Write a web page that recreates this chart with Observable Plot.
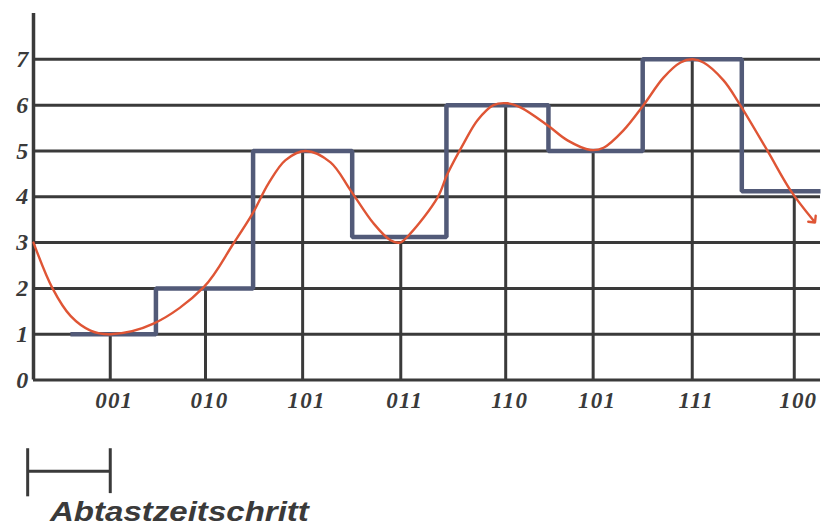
<!DOCTYPE html>
<html>
<head>
<meta charset="utf-8">
<script src="https://cdn.jsdelivr.net/npm/d3@7"></script>
<script src="https://cdn.jsdelivr.net/npm/@observablehq/plot@0.6"></script>
<style>
  html, body { margin: 0; padding: 0; background: #fff; }
  #chart { position: relative; width: 824px; }
  #chart svg text { letter-spacing: 1.2px; }
  #caption {
    font-family: "Liberation Sans", Arial, sans-serif;
    font-weight: bold; font-style: italic;
    font-size: 28px; line-height: 28px;
    color: #3a3a3a;
    margin-left: 50px;
    display: inline-block;
    transform: scaleX(1.18);
    transform-origin: left center;
  }
</style>
</head>
<body>
<div id="chart"></div>
<div id="caption">Abtastzeitschritt</div>
<script>
// y tick values (quantisation levels)
const yTicks = [0, 1, 2, 3, 4, 5, 6, 7];

// sample instants (in sampling-period units) and sampled values
const sampleTimes = [0.79, 1.77, 2.77, 3.78, 4.86, 5.76, 6.78, 7.83];
const sampleValues = [1, 2, 5, 3, 6, 5, 7, 4];
const codes = ["001", "010", "101", "011", "110", "101", "111", "100"];

// held (staircase) output: edge times and levels
const stepTimes  = [0.38, 1.26, 2.26, 3.28, 4.25, 5.30, 6.27, 7.29, 8.10];
const stepValues = [1, 2, 5, 3.12, 6, 5, 7, 4.12, 4.12];

// analog signal
const signalTimes = [0.00, 0.196, 0.381, 0.587, 0.793, 1.235, 1.750, 2.058, 2.254, 2.419, 2.594, 2.80,
  3.057, 3.263, 3.499, 3.674, 3.774, 3.880, 4.158, 4.261, 4.426, 4.570, 4.734, 4.879,
  5.012, 5.290, 5.496, 5.733, 5.867, 6.072, 6.278, 6.484, 6.659, 6.783, 6.896, 7.102,
  7.256, 7.555, 7.791, 8.028];
const signalValues = [3.0, 2.0, 1.4, 1.08, 1.0, 1.23, 2.02, 2.98, 3.63, 4.29, 4.8, 5.0,
  4.75, 4.14, 3.42, 3.05, 3.0, 3.2, 3.98, 4.5, 5.16, 5.67, 6.0, 6.04,
  5.95, 5.56, 5.23, 5.02, 5.07, 5.45, 6.0, 6.6, 6.93, 7.0, 6.93, 6.54,
  6.06, 5.0, 4.14, 3.48];

// scale bar: one sampling step
const barStart = -0.06, barEnd = 0.79, barLevel = -1.99, barTop = -1.5, barBottom = -2.55, barBottomRight = -2.48;

const samples = sampleTimes.map((t, i) => ({t, v: sampleValues[i], code: codes[i]}));
const steps = stepTimes.map((t, i) => ({t, v: stepValues[i]}));
const signal = signalTimes.map((t, i) => ({t, v: signalValues[i]}));

const ink = "#3a3a3a";
const serif = "Liberation Serif, Times New Roman, serif";

const plot = Plot.plot({
  width: 824,
  height: 498,
  marginLeft: 33,
  marginRight: 4,
  marginTop: 13,
  marginBottom: 118.5,
  x: {domain: [0, 8.1], axis: null},
  y: {domain: [0, 8], axis: null},
  style: {background: "#fff", overflow: "visible"},
  marks: [
    Plot.ruleY(yTicks, {stroke: ink, strokeWidth: 3}),
    Plot.ruleX([0], {stroke: ink, strokeWidth: 3.5}),
    Plot.ruleX(samples, {x: "t", y1: 0, y2: "v", stroke: ink, strokeWidth: 3}),
    Plot.line(steps, {x: "t", y: "v", curve: "step-after", stroke: "#525a78", strokeWidth: 4.5, strokeLinejoin: "miter", strokeLinecap: "butt"}),
    Plot.line(signal, {x: "t", y: "v", curve: "catmull-rom", stroke: "#df5535", strokeWidth: 2.4, markerEnd: "arrow"}),
    Plot.text(yTicks, {y: d => d, frameAnchor: "left", dx: -4, textAnchor: "end", text: d => String(d),
      fontFamily: serif, fontSize: 24, fontWeight: "bold", fontStyle: "italic", fill: ink}),
    Plot.text(samples, {x: "t", frameAnchor: "bottom", dy: 28, dx: 4, text: "code",
      fontFamily: serif, fontSize: 23, fontWeight: "bold", fontStyle: "italic", fill: ink}),
    // scale bar
    Plot.ruleY([barLevel], {x1: barStart, x2: barEnd, stroke: ink, strokeWidth: 3}),
    Plot.ruleX([barStart], {y1: barTop, y2: barBottom, stroke: ink, strokeWidth: 3}),
    Plot.ruleX([barEnd], {y1: barTop, y2: barBottomRight, stroke: ink, strokeWidth: 3})
  ]
});
document.getElementById("chart").appendChild(plot);
</script>
</body>
</html>
